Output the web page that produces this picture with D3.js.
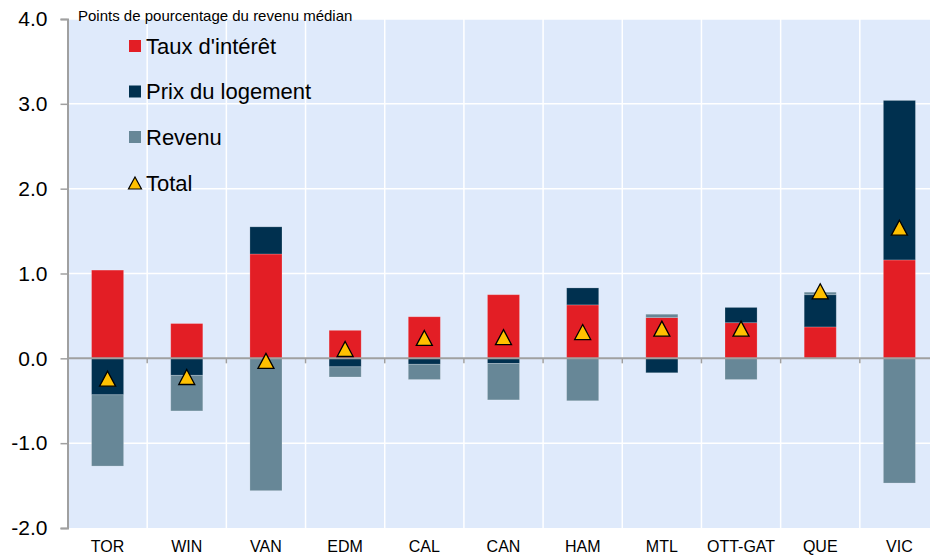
<!DOCTYPE html>
<html lang="fr">
<head>
<meta charset="UTF-8">
<title>Contributions</title>
<script src="https://d3js.org/d3.v7.min.js"></script>
<style>
  body { margin: 0; background: #fff; }
  svg { display: block; font-family: "Liberation Sans", Arial, sans-serif; }
</style>
</head>
<body>
<svg id="chart" width="930" height="557"></svg>
<script>
// data
const cities   = ["TOR", "WIN", "VAN", "EDM", "CAL", "CAN", "HAM", "MTL", "OTT-GAT", "QUE", "VIC"];
const rates    = [1.04, 0.41, 1.23, 0.33, 0.49, 0.75, 0.63, 0.48, 0.42, 0.37, 1.16];
const prices   = [-0.43, -0.20, 0.32, -0.10, -0.07, -0.06, 0.20, -0.17, 0.18, 0.38, 1.88];
const incomes  = [-0.84, -0.42, -1.56, -0.12, -0.18, -0.43, -0.50, 0.04, -0.25, 0.03, -1.47];
const totals   = [-0.24, -0.22, -0.03, 0.11, 0.24, 0.25, 0.31, 0.35, 0.35, 0.79, 1.54];
const yTicks   = [-2, -1, 0, 1, 2, 3, 4];
const seriesNames = ["Taux d'intérêt", "Prix du logement", "Revenu", "Total"];

const colors = {rate: "#e31e25", price: "#00304f", income: "#678797", total: "#ffc000"};
const bg = "#dfeafb";

const rows = cities.map((c, i) => ({city: c, rate: rates[i], price: prices[i], income: incomes[i], total: totals[i]}));

const svg = d3.select("#chart");
const plotLeft = 68, plotTop = 19, plotW = 871, plotBottom = 528;

const x = d3.scaleBand().domain(cities).range([plotLeft, plotLeft + plotW]);
const y = d3.scaleLinear().domain([-2, 4]).range([plotBottom, plotTop]);

// plot background
svg.append("rect")
  .attr("x", plotLeft).attr("y", plotTop)
  .attr("width", plotW).attr("height", plotBottom - plotTop)
  .attr("fill", bg);

// horizontal grid
svg.append("g").selectAll("line")
  .data(yTicks.filter(d => d !== 0 && d !== -2))
  .join("line")
  .attr("x1", plotLeft).attr("x2", plotLeft + plotW)
  .attr("y1", d => y(d)).attr("y2", d => y(d))
  .attr("stroke", "#fff").attr("stroke-width", 1.5);

// vertical grid between categories
svg.append("g").selectAll("line")
  .data(cities.slice(1))
  .join("line")
  .attr("x1", d => x(d)).attr("x2", d => x(d))
  .attr("y1", plotTop).attr("y2", plotBottom)
  .attr("stroke", "#fff").attr("stroke-width", 1.5);

// stacked bars
const stack = d3.stack().keys(["rate", "price", "income"]).offset(d3.stackOffsetDiverging);
const layers = stack(rows);
const barW = x.bandwidth() * 0.405;

svg.append("g").selectAll("g")
  .data(layers)
  .join("g")
  .attr("fill", d => colors[d.key])
  .selectAll("rect")
  .data(d => d)
  .join("rect")
  .attr("x", d => x(d.data.city) + (x.bandwidth() - barW) / 2)
  .attr("y", d => y(Math.max(d[0], d[1])))
  .attr("width", barW)
  .attr("height", d => Math.abs(y(d[0]) - y(d[1])))
  .attr("stroke", "#fff").attr("stroke-opacity", 0.25).attr("stroke-width", 0.8);

// zero line and its small ticks
svg.append("line")
  .attr("x1", plotLeft).attr("x2", plotLeft + plotW)
  .attr("y1", y(0)).attr("y2", y(0))
  .attr("stroke", "#a0a0a0").attr("stroke-width", 2);
svg.append("g").selectAll("line")
  .data(cities.slice(1))
  .join("line")
  .attr("x1", d => x(d)).attr("x2", d => x(d))
  .attr("y1", y(0)).attr("y2", y(0) + 5)
  .attr("stroke", "#a0a0a0").attr("stroke-width", 1.5);

// triangle markers
function tri(w, h) {
  return `M0,${-h / 2}L${w / 2},${h / 2}L${-w / 2},${h / 2}Z`;
}
svg.append("g").selectAll("path")
  .data(rows)
  .join("path")
  .attr("d", tri(16, 15))
  .attr("transform", d => `translate(${x(d.city) + x.bandwidth() / 2},${y(d.total)})`)
  .attr("fill", colors.total)
  .attr("stroke", "#000").attr("stroke-width", 1.3)
  .attr("stroke-linejoin", "miter");

// y axis
const yAxis = svg.append("g")
  .attr("transform", `translate(${plotLeft - 0.5},0)`)
  .call(d3.axisLeft(y).tickValues(yTicks).tickSize(7).tickPadding(13)
    .tickFormat(d => d.toFixed(1)));
yAxis.select(".domain").attr("stroke", "#a0a0a0").attr("stroke-width", 2);
yAxis.selectAll(".tick line").attr("stroke", "#a0a0a0").attr("stroke-width", 1.5);
yAxis.selectAll(".tick text").attr("font-size", 21).attr("fill", "#000")
  .attr("font-family", "Liberation Sans, Arial, sans-serif");

// x axis labels
const xAxis = svg.append("g")
  .attr("transform", `translate(0,${plotBottom})`)
  .call(d3.axisBottom(x).tickSize(0).tickPadding(13));
xAxis.select(".domain").remove();
xAxis.selectAll(".tick text").attr("font-size", 16).attr("fill", "#000")
  .attr("font-family", "Liberation Sans, Arial, sans-serif");

// unit label
svg.append("text")
  .attr("x", 78).attr("y", 21)
  .attr("font-size", 15)
  .text("Points de pourcentage du revenu médian");

// legend
const legendY = [46, 91.5, 137, 183];
const legendColors = [colors.rate, colors.price, colors.income];
const legend = svg.append("g");
legendColors.forEach((c, i) => {
  legend.append("rect")
    .attr("x", 129).attr("y", legendY[i] - 6)
    .attr("width", 12).attr("height", 12)
    .attr("fill", c);
});
legend.append("path")
  .attr("d", tri(13, 12))
  .attr("transform", `translate(135,${legendY[3]})`)
  .attr("fill", colors.total).attr("stroke", "#000").attr("stroke-width", 1.2);
legend.selectAll("text")
  .data(seriesNames)
  .join("text")
  .attr("x", 146).attr("y", (d, i) => legendY[i])
  .attr("dy", "0.36em")
  .attr("font-size", 22)
  .text(d => d);
</script>
</body>
</html>
